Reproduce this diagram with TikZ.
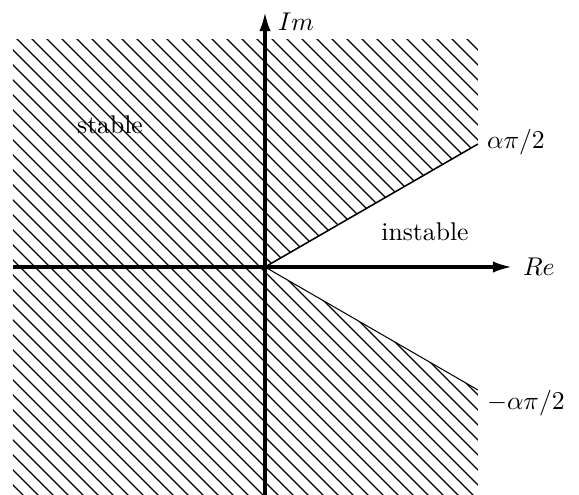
\documentclass[tikz,border=0pt]{standalone}
\usepackage{amsmath,amssymb}
\usepackage{tikz}
\usetikzlibrary{arrows.meta,positioning,calc}

\begin{document}
\begin{tikzpicture}[
  x=0.39pt, y=0.39pt,
  axis/.style={-{Latex[length=7.5pt,width=4.5pt]}, very thick},
  hatch/.style={line width=0.45pt},
  edge/.style={semithick},
  lbl/.style={inner sep=1pt}
]
\useasboundingbox (-265,-228) rectangle (314,267);

% hatched region: everything except the wedge |arg z| < 30 deg
\begin{scope}
  \clip (0,0) -- (213,123) -- (213,228) -- (-252,228) -- (-252,-228)
        -- (213,-228) -- (213,-123) -- cycle;
  \foreach \c in {-500,-485,...,460}
    \draw[hatch] (\c-300,300) -- (\c+300,-300);
\end{scope}

\coordinate (O) at (0,0);
\coordinate (up) at (213,123);
\coordinate (lo) at (213,-123);
\coordinate (xl) at (-252,0);
\coordinate (xr) at (247,0);
\coordinate (yb) at (0,-228);
\coordinate (yt) at (0,255);

\draw[edge] (O) -- (up);
\draw[thin] (O) -- (lo);

\draw[axis] (xl) -- (xr);
\draw[axis] (yb) -- (yt);

\node[lbl, anchor=west] (re) at (255,0) {$Re$};
\node[lbl, anchor=west] (im) at (10,245) {$Im$};
\node[lbl, anchor=west] (ap) at (219,125) {$\alpha\pi/2$};
\node[lbl, anchor=west] (am) at (219,-136) {$-\alpha\pi/2$};
\node[lbl] (stable) at (-155,142) {stable};
\node[lbl] (instable) at (160,35) {instable};

\end{tikzpicture}
\end{document}
